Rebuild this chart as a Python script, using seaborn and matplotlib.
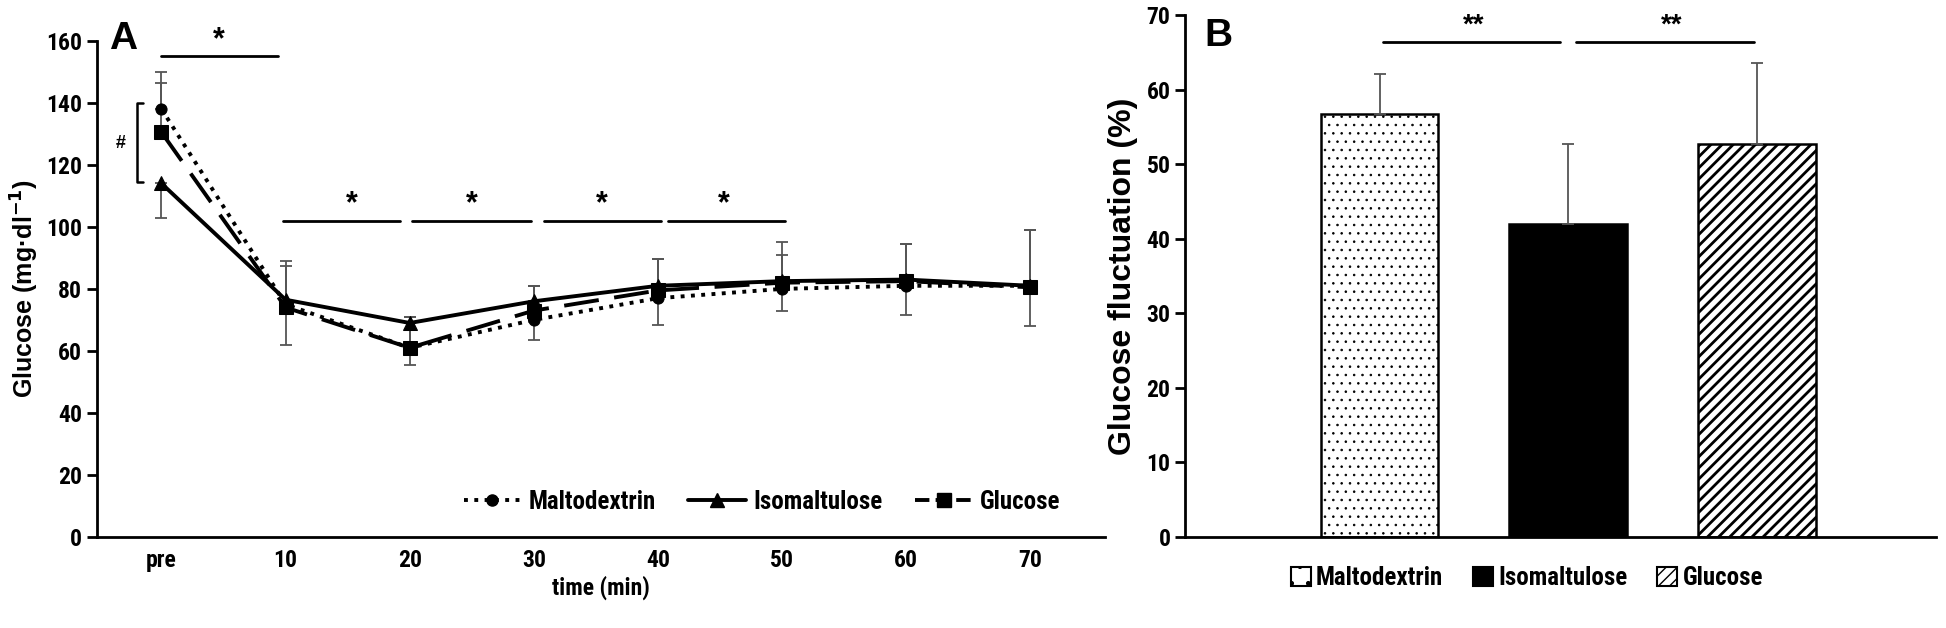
import matplotlib
matplotlib.use("Agg")
import matplotlib.pyplot as plt
import seaborn as sns
import numpy as np
import pandas as pd
from matplotlib.lines import Line2D
from matplotlib.patches import Patch

# ── panel A data ──
time_labels = ["pre", "10", "20", "30", "40", "50", "60", "70"]
malto_mean = [138, 75, 61, 70, 77, 80, 81, 81]
iso_mean = [114, 76.5, 69, 76, 81, 82.5, 83, 81]
gluc_mean = [130.5, 74, 61, 73, 79.5, 82, 82.5, 80.5]
malto_err_up = [12, 14, 10, 11, 12.5, 15, 13.5, 18]
gluc_err_up = [16, 13.5, 10, 8, 10, 9, 12, 18.5]
iso_err_down = [11, 14.5, 13.5, 12.5, 12.5, 9.5, 11.5, 13]

# ── panel B data ──
groups = ["Maltodextrin", "Isomaltulose", "Glucose"]
fluct_mean = [56.7, 42.0, 52.7]
fluct_err = [5.4, 10.7, 10.9]

sns.set_style("ticks")
# condensed fonts first if they exist, otherwise Arial-like Liberation Sans
NARROW = ["Liberation Sans Narrow", "Arial Narrow", "Roboto Condensed",
          "Liberation Sans", "DejaVu Sans"]
WIDE = ["Liberation Sans", "DejaVu Sans"]
plt.rcParams["font.family"] = NARROW
plt.rcParams["font.weight"] = "bold"
for key in ["text.color", "axes.labelcolor", "xtick.color", "ytick.color", "axes.edgecolor"]:
    plt.rcParams[key] = "black"

fig = plt.figure(figsize=(19.46, 6.28), dpi=100)
axA = fig.add_axes([0.0498, 0.145, 0.518, 0.790])
axB = fig.add_axes([0.609, 0.145, 0.386, 0.831])

# ── A: line chart ──
xpos = np.arange(len(time_labels))
ecol = "#555555"
ekw = dict(fmt="none", ecolor=ecol, elinewidth=1.3, capsize=4, capthick=1.3, zorder=1)
axA.errorbar(xpos, malto_mean, yerr=[np.zeros(8), malto_err_up], **ekw)
axA.errorbar(xpos, gluc_mean, yerr=[np.zeros(8), gluc_err_up], **ekw)
axA.errorbar(xpos, iso_mean, yerr=[iso_err_down, np.zeros(8)], **ekw)

sns.lineplot(x=xpos, y=malto_mean, ax=axA, color="black", linestyle=":",
             linewidth=2.8, marker="o", markersize=8, markeredgecolor="black", zorder=3)
sns.lineplot(x=xpos, y=iso_mean, ax=axA, color="black", linestyle="-",
             linewidth=2.8, marker="^", markersize=10, markeredgecolor="black", zorder=3)
sns.lineplot(x=xpos, y=gluc_mean, ax=axA, color="black", linestyle="--",
             linewidth=2.8, marker="s", markersize=10, markeredgecolor="black", zorder=3)
axA.lines[-1].set_dashes([9, 4])

axA.set_xlim(-0.52, 7.6)
axA.set_ylim(0, 160)
axA.set_yticks(range(0, 161, 20))
axA.set_xticks(xpos)
axA.set_xticklabels(time_labels)
axA.tick_params(axis="x", length=0, labelsize=17, pad=9)
axA.tick_params(axis="y", length=7, width=2, labelsize=17, direction="out")
for s in ["top", "right"]:
    axA.spines[s].set_visible(False)
for s in ["left", "bottom"]:
    axA.spines[s].set_linewidth(2)
axA.set_xlabel("time (min)", fontsize=17, fontweight="bold", labelpad=2)
axA.set_ylabel("Glucose (mg·dl$^{-1}$)", fontsize=18, fontweight="bold",
               family=WIDE, labelpad=4)

# significance marks
axA.plot([0, 0.94], [155, 155], color="black", lw=2)
axA.text(0.46, 155.5, "*", ha="center", va="bottom", fontsize=22, family=WIDE)
for x0, x1, xs in [(0.98, 1.92, 1.53), (2.02, 2.98, 2.5), (3.08, 4.02, 3.55), (4.08, 5.02, 4.53)]:
    axA.plot([x0, x1], [102, 102], color="black", lw=2)
    axA.text(xs, 102.5, "*", ha="center", va="bottom", fontsize=22, family=WIDE)
axA.plot([-0.15, -0.2, -0.2, -0.15], [140, 140, 114.5, 114.5], color="black", lw=1.8)
axA.text(-0.33, 127, "#", ha="center", va="center", fontsize=13, family=WIDE)
axA.text(-0.42, 166.5, "A", ha="left", va="top", fontsize=28, fontweight="bold", family=WIDE)

handlesA = [
    Line2D([], [], color="black", linestyle=":", lw=2.8, marker="o", markersize=8),
    Line2D([], [], color="black", linestyle="-", lw=2.8, marker="^", markersize=10),
    Line2D([], [], color="black", linestyle="--", lw=2.8, marker="s", markersize=10),
]
axA.legend(handlesA, groups, loc="center", bbox_to_anchor=(0.66, 0.07), ncol=3,
           frameon=False, fontsize=18, handlelength=2.3, columnspacing=1.3,
           handletextpad=0.3)

# ── B: bar chart ──
dfB = pd.DataFrame({"group": groups, "value": fluct_mean})
sns.barplot(data=dfB, x="group", y="value", hue="group", ax=axB, legend=False,
            palette=["white", "black", "white"], width=0.625,
            edgecolor="black", linewidth=1.8, errorbar=None)
hatches = ["..", "", "///"]
hatch_lw = [0.6, 1.0, 2.0]
for patch, h, hl in zip(axB.patches, hatches, hatch_lw):
    patch.set_hatch(h)
    if hasattr(patch, "set_hatch_linewidth"):
        patch.set_hatch_linewidth(hl)
    else:
        patch._hatch_linewidth = hl
axB.errorbar(np.arange(3), fluct_mean, yerr=[np.zeros(3), fluct_err], **ekw)

axB.set_xlim(-1.03, 2.95)
axB.set_ylim(0, 70)
axB.set_yticks(range(0, 71, 10))
axB.set_xticks([])
axB.set_xlabel("")
axB.tick_params(axis="y", length=7, width=2, labelsize=17, direction="out")
for s in ["top", "right"]:
    axB.spines[s].set_visible(False)
for s in ["left", "bottom"]:
    axB.spines[s].set_linewidth(2)
axB.set_ylabel("Glucose fluctuation (%)", fontsize=23, fontweight="bold",
               family=WIDE, labelpad=6)

for x0, x1, xs in [(0.02, 0.957, 0.5), (1.04, 1.985, 1.55)]:
    axB.plot([x0, x1], [66.4, 66.4], color="black", lw=2)
    axB.text(xs, 66.8, "**", ha="center", va="bottom", fontsize=20, family=WIDE)
axB.text(-0.93, 69.6, "B", ha="left", va="top", fontsize=28, fontweight="bold", family=WIDE)

handlesB = [Patch(facecolor="white", edgecolor="black", hatch=".", lw=1.5),
            Patch(facecolor="black", edgecolor="black", lw=1.5),
            Patch(facecolor="white", edgecolor="black", hatch="///", lw=1.5)]
axB.legend(handlesB, groups, loc="center", bbox_to_anchor=(0.455, -0.079), ncol=3,
           frameon=False, fontsize=18, handlelength=0.8, handleheight=0.8,
           handletextpad=0.2, columnspacing=1.2)

fig.savefig("out.png", dpi=100)
